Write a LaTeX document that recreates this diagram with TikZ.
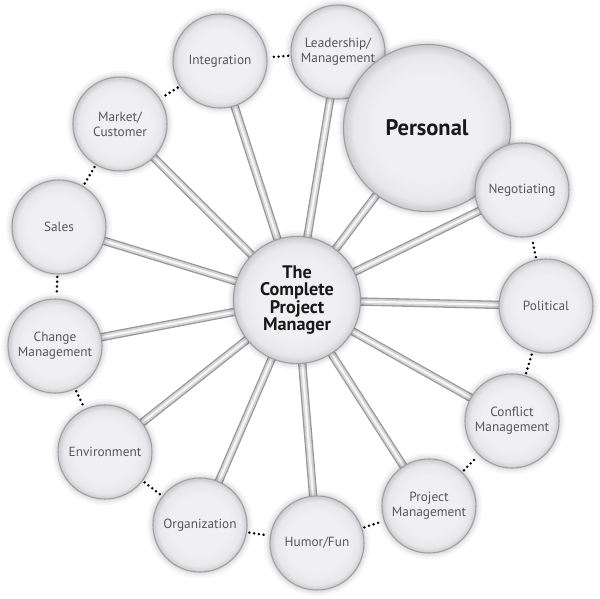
\documentclass[tikz,border=0pt]{standalone}
\usepackage{fontspec}
\setmainfont{PT Sans}
\usetikzlibrary{backgrounds}
\definecolor{bubin}{HTML}{F0F0F3}
\definecolor{bubmid}{HTML}{E8E8EB}
\definecolor{bubrim}{HTML}{CBCBCF}
\definecolor{bubline}{HTML}{A0A0A4}
\definecolor{labelgray}{HTML}{575757}
\definecolor{tubeout}{HTML}{98989C}
\definecolor{tubemid}{HTML}{D4D4D7}
\definecolor{tubein}{HTML}{F6F6F7}
\pgfdeclareradialshading{bubble}{\pgfpoint{0bp}{0bp}}{color(0bp)=(bubin); color(16bp)=(bubin); color(22bp)=(bubmid); color(25bp)=(bubrim); color(50bp)=(bubrim)}
\tikzset{
  shadowed/.style={
    preaction={draw=black, draw opacity=0.035, line width=12pt, xshift=2pt, yshift=-3pt},
    preaction={draw=black, draw opacity=0.05, line width=7pt, xshift=2pt, yshift=-3pt},
    preaction={fill=black, fill opacity=0.07, draw=black, draw opacity=0.06, line width=3pt, xshift=2pt, yshift=-3pt}},
  bub/.style={circle, shadowed, shading=bubble, draw=bubline, line width=1.1pt,
    minimum size=94pt, inner sep=0pt, align=center, text=labelgray,
    font=\fontsize{13.3}{15}\selectfont},
  bigbub/.style={bub, minimum size=167pt, text=black!90,
    font=\fontsize{22.5}{26}\selectfont\bfseries},
  hubbub/.style={bub, minimum size=127pt, text=black!90,
    font=\fontsize{18.2}{17.6}\selectfont\bfseries},
  spoke/.style={draw=tubeout, line width=8.4pt,
    postaction={draw=tubemid, line width=5.8pt},
    postaction={draw=tubein, line width=2.2pt}},
  dots/.style={draw=black, line width=2.8pt, line cap=round,
    dash pattern=on 0pt off 4.8pt, shorten <=2.4pt, shorten >=2.4pt}
}
\begin{document}
\begin{tikzpicture}[x=1pt, y=-1pt]
\useasboundingbox (0,0) rectangle (600,598);
\node[hubbub] (C) at (297,300) {The\\Complete\\Project\\Manager};
\node[bub] (Int) at (220,61) {Integration};
\node[bub] (Mkt) at (120,124) {Market/\\Customer};
\node[bub] (Sal) at (59,227) {Sales};
\node[bub] (Chg) at (55,346) {Change\\Management};
\node[bub] (Env) at (105,452) {Environment};
\node[bub] (Org) at (200,525) {Organization};
\node[bub] (Hum) at (317,543) {Humor/Fun};
\node[bub] (Prj) at (429,506) {Project\\Management};
\node[bub] (Cnf) at (512,421) {Conflict\\Management};
\node[bub] (Pol) at (546,306) {Political};
\node[bub] (Led) at (338,52) {Leadership/\\Management};
\node[bigbub] (Per) at (427,128) {Personal};
\node[bub] (Neg) at (522,190) {Negotiating};
\begin{scope}[on background layer]
\foreach \t in {Int,Mkt,Sal,Chg,Env,Org,Hum,Prj,Cnf,Pol,Neg,Per,Led}
  \draw[spoke] (C.center) -- (\t.center);
\end{scope}
\draw[dots] (Led) -- (Int);
\draw[dots] (Int) -- (Mkt);
\draw[dots] (Mkt) -- (Sal);
\draw[dots] (Sal) -- (Chg);
\draw[dots] (Chg) -- (Env);
\draw[dots] (Env) -- (Org);
\draw[dots] (Org) -- (Hum);
\draw[dots] (Hum) -- (Prj);
\draw[dots] (Prj) -- (Cnf);
\draw[dots] (Cnf) -- (Pol);
\draw[dots] (Pol) -- (Neg);
\end{tikzpicture}
\end{document}
